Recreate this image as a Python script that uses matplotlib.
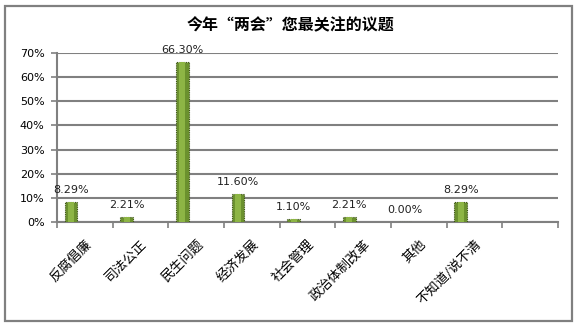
import matplotlib.pyplot as plt
import matplotlib.patches as mpatches
import matplotlib.transforms as mtransforms
from matplotlib.ticker import FuncFormatter

plt.rcParams['font.family'] = ['Noto Sans CJK SC', 'DejaVu Sans']

categories = ['反腐倡廉', '司法公正', '民生问题', '经济发展', '社会管理',
              '政治体制改革', '其他', '不知道/说不清', '']
values = [8.29, 2.21, 66.30, 11.60, 1.10, 2.21, 0.00, 8.29]
value_labels = ['8.29%', '2.21%', '66.30%', '11.60%', '1.10%', '2.21%', '0.00%', '8.29%']
yticks = [0, 10, 20, 30, 40, 50, 60, 70]

fig = plt.figure(figsize=(5.78, 3.26), dpi=100)
# outer grey frame like the Excel chart area
fig.patches.append(mpatches.Rectangle((5 / 578, 5 / 326), 567 / 578, 315 / 326,
                                      transform=fig.transFigure, fill=False,
                                      edgecolor='#808080', linewidth=1.6))

ax = fig.add_axes([57 / 578, 104 / 326, 501 / 578, 169 / 326])

n = len(categories)
xs = [i - 0.25 for i in range(len(values))]
ax.bar(xs, values, width=0.23, color='#6B912E', edgecolor='#3E5318',
       linewidth=0.8, linestyle=(0, (1, 1)), zorder=3)
ax.bar(xs, values, width=0.11, color='#8DB545', linewidth=0, zorder=4)

for x, v, lab in zip(xs, values, value_labels):
    ax.annotate(lab, (x, v), xytext=(0, 5), textcoords='offset points',
                ha='center', va='bottom', fontsize=8, family='DejaVu Sans',
                color='#222222', zorder=5)

ax.set_xlim(-0.5, n - 0.5)
ax.set_ylim(0, 70)
ax.set_yticks(yticks)
ax.yaxis.set_major_formatter(FuncFormatter(lambda v, p: '%d%%' % v))
ax.yaxis.grid(True, color='#808080', linewidth=1.5, zorder=0)
ax.set_axisbelow(True)

ax.set_xticks(range(n))
ax.set_xticklabels(categories, rotation=45, ha='right', rotation_mode='anchor',
                   fontsize=9.5)
shift = mtransforms.ScaledTranslation(-6 / 100, 0, fig.dpi_scale_trans)
for lab in ax.get_xticklabels():
    lab.set_transform(lab.get_transform() + shift)
ax.set_xticks([i - 0.5 for i in range(n + 1)], minor=True)
ax.tick_params(axis='x', which='major', length=0, pad=11)
ax.tick_params(axis='x', which='minor', length=4, color='#808080', width=1.2)
ax.tick_params(axis='y', length=4, color='#808080', width=1.2, pad=5,
               labelsize=8)
for lab in ax.get_yticklabels():
    lab.set_family('DejaVu Sans')

for s in ['top', 'right']:
    ax.spines[s].set_visible(False)
for s in ['left', 'bottom']:
    ax.spines[s].set_color('#808080')
    ax.spines[s].set_linewidth(1.5)

fig.text(290 / 578, 1 - 25 / 326, '今年“两会”您最关注的议题', ha='center',
         va='center', fontsize=11.5, fontweight='bold')

fig.savefig('out.png', dpi=100)
